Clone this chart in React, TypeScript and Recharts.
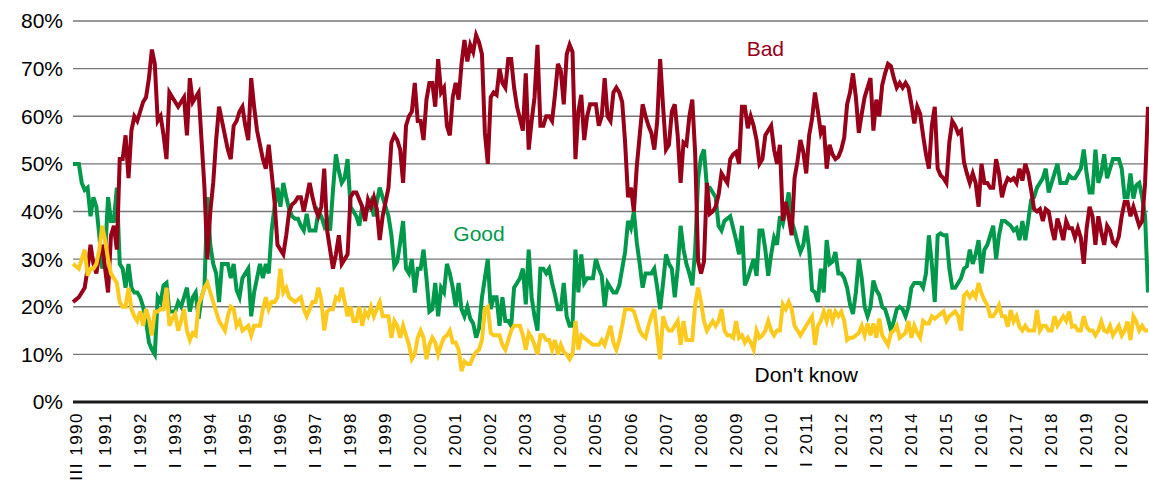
import React from 'react';
import { LineChart, Line, XAxis, YAxis, CartesianGrid, ReferenceDot } from 'recharts';

// Monthly survey, from March 1990 (III 1990) to November 2020 (XI 2020)
const ROMAN = ['I', 'II', 'III', 'IV', 'V', 'VI', 'VII', 'VIII', 'IX', 'X', 'XI', 'XII'];
const START_YEAR = 1990;
const START_MONTH = 3;

// "Bad" (%)
const bad = [
  21, 21.5, 22, 23, 24, 28, 33, 29, 27, 31,
  33, 28, 23, 35, 37, 32, 51, 51, 56, 47, 57, 60,
  59, 61, 63, 64, 68, 74, 71, 59, 60, 56, 51, 65,
  64, 63, 62, 63, 64, 56, 68, 63, 64, 65, 55, 45,
  30, 40, 46, 55, 62, 59, 56, 53, 51, 58, 59, 61,
  62, 58, 55, 68, 62, 57, 54, 51, 49, 54, 48, 42,
  33, 32, 31, 35, 40, 41.5, 42, 43, 43, 40, 43, 46,
  43, 40.5, 39, 41, 49, 36, 32, 28, 31, 35, 29, 30,
  31, 43, 44, 44, 42.5, 41, 38, 42.5, 41, 43, 40.5, 34,
  39, 42, 45, 54.5, 56, 55, 53, 46, 58, 60, 61, 67,
  59, 59, 55, 63.5, 67, 67, 62, 72, 65, 66, 58, 56,
  64, 67, 63.5, 71, 76, 71.5, 75, 73.5, 77, 75.5, 73, 56.5,
  50, 64, 65, 64.5, 70, 67, 66, 72, 72, 66, 62, 59.5,
  57, 69, 53, 59, 64, 75, 58, 58, 60, 60, 59, 64.5,
  71, 69.5, 62.5, 73, 75, 73.5, 51, 61, 64.5, 55, 60, 62.5,
  62.5, 62.5, 58, 60, 68, 60, 59, 65, 66, 65, 63, 54.5,
  43, 45, 40, 49.5, 56, 62.5, 60, 58, 56.5, 53, 59, 72,
  62, 53, 54, 61, 62.5, 56, 46, 54.5, 54, 60, 63.5, 52,
  29.5, 27, 29.5, 46, 39.5, 40, 41, 43.5, 48, 47, 46, 51,
  52, 52.5, 50, 62, 62, 57.5, 60, 58, 55, 50, 51, 56,
  57, 58, 53, 50, 54, 38, 42, 39, 35, 47, 50.5, 55,
  52.5, 48, 56, 59.5, 65, 61, 56.5, 58, 49, 54, 52, 51,
  51.5, 53, 55.5, 62.5, 65, 69, 64, 56.5, 60.5, 64, 66, 68,
  57, 63.5, 60, 66.5, 69, 71, 70.5, 68, 66, 67, 66, 67,
  66, 62.5, 58.5, 62, 60.5, 56, 52, 49, 58, 62, 49, 47.6,
  47, 46, 54.6, 59, 58, 56.4, 57, 50.4, 48, 46, 48, 46,
  41, 50, 46, 46, 45, 45, 51, 48, 43, 45.5, 47, 46.5,
  47, 46, 49, 46.5, 50, 48, 44.5, 40.5, 40, 40.5, 38, 40.5,
  40, 36.5, 34, 38.5, 36.5, 34, 38, 36.5, 36.5, 34.5, 36.5, 34.5,
  29, 36.5, 41, 39, 33, 39, 35.7, 33, 37, 36, 33.6, 33,
  34.7, 39, 42, 42, 39, 41, 39, 37, 38, 46, 62,
];

// "Good" (%)
const good = [
  50, 50, 50, 46, 44.5, 45, 39, 43, 41, 35,
  28, 31, 43, 38, 38, 45, 29, 28, 24, 29, 24, 23,
  23, 22, 20, 17, 12.5, 11, 10, 22, 21, 24.5, 25, 19,
  19, 19, 21, 20, 22, 24, 19, 22, 23, 17.5, 22, 24,
  43, 33, 29, 27, 21, 29, 29, 29, 26, 29, 23.5, 22,
  26, 27, 28, 18, 23, 26, 29, 26, 29, 27, 36, 41,
  45, 41, 46, 43, 40.5, 39, 38.5, 38.5, 37, 36, 39.5, 36,
  36, 36, 40, 39, 37, 38.5, 36, 44.5, 52, 48.5, 46, 47,
  51, 41, 40, 39, 37, 41, 40, 40.5, 42, 39, 42, 45,
  43, 41, 39, 35, 28.5, 29.5, 33.5, 38, 28, 27, 30, 23,
  28, 28, 32, 26, 19, 19.5, 25, 18, 24, 23, 29, 27,
  24, 20, 25, 19.5, 18, 20, 17.5, 16.5, 13.5, 15.5, 22, 26,
  30, 19.5, 22, 22, 16, 22, 17, 17, 16, 24, 25, 26,
  28, 20.5, 32, 22, 18, 15, 28, 28, 27, 28, 25, 22.5,
  19.5, 19.5, 25, 18, 16, 16, 32, 23, 31, 25, 26, 26,
  26, 30, 28, 26.5, 20, 25, 24, 23, 23, 24.5, 28, 31.5,
  38, 36.5, 40, 33.5, 29, 24, 27, 27, 27, 28, 24, 19.5,
  25, 31, 29, 28, 22, 28, 37, 32, 29, 27, 24.5, 32,
  47, 51.5, 53, 45, 45, 44, 43, 37, 36, 38, 38.5, 39,
  36.5, 34, 31, 37, 24.5, 26, 28, 30, 26.5, 36, 36, 32,
  26.5, 31, 34.5, 33, 39, 37.5, 40.5, 44, 38, 36, 33.5, 31.5,
  33, 37, 32, 23.5, 23, 21, 28, 23, 34, 29, 29.5, 31.5,
  27, 27, 26, 24, 20.5, 18.5, 23, 30, 26, 20, 18, 20,
  25.5, 23.5, 22.5, 20, 19.5, 17.5, 15, 17, 19.5, 20, 19.5, 18,
  20, 24, 25, 25, 25, 24, 27, 35, 29, 21, 35, 35.4,
  35, 35, 28, 24, 24, 25, 26, 28, 28.5, 32, 29, 31,
  34, 27, 32, 33, 35, 37, 30, 35, 38, 38, 37.5, 37,
  36, 36.5, 34, 38, 34, 38, 42.4, 43, 45, 46, 47, 49,
  44, 46, 48, 50, 46, 46, 46, 47.6, 47, 47, 48, 49,
  53, 48, 44, 44, 53, 46, 48, 52, 47, 49, 51, 51,
  51, 49, 43, 43, 48, 42.7, 45.5, 46, 43, 39, 23,
];

// "Don't know" (%)
const dontKnow = [
  29, 28.5, 28, 30, 32, 26.5, 28, 28, 29, 32,
  37, 34, 30, 27, 26, 25, 21, 20, 20, 24, 19.5, 18,
  17, 19, 16, 19.5, 17.5, 14, 19, 19, 19.5, 19.5, 24, 16,
  17.5, 18.5, 15, 17, 19.5, 15, 13, 14.5, 14, 20.5, 22, 24,
  25, 23, 21, 19, 17, 16, 15, 18, 20, 19.5, 16, 17,
  15, 15.5, 16, 14, 16, 16, 16, 19.5, 22, 19.5, 21, 21,
  22, 28, 23, 24, 22, 21.5, 21, 21.5, 22, 19.5, 18, 19.5,
  21, 21, 24, 21.5, 15, 19, 19.5, 19.5, 22, 21.5, 24, 21,
  18, 20, 17, 17, 20, 16, 19, 18, 20, 18, 19.5, 21,
  18, 18, 18, 13.5, 17, 16, 13.5, 16, 14, 12, 9, 10,
  13.5, 15, 13.5, 9, 12, 13.5, 12.5, 10, 12, 13.5, 14, 15,
  12.5, 12.5, 11, 6.5, 8.5, 8, 8, 9.5, 10.5, 11, 13, 19.5,
  20, 14.5, 14, 14, 14, 12, 11, 13, 15, 16, 16, 16,
  14, 11, 14.5, 13.5, 12, 10, 14, 14, 13, 13, 11, 13,
  10, 12, 10.5, 10, 9, 10, 17, 11, 14, 13.5, 13, 12.5,
  12, 12, 12, 13, 12, 14, 16, 12.5, 11, 13, 16, 19.5,
  19.5, 19.5, 19, 17, 15, 14, 13.5, 16, 18, 19.5, 14, 9,
  18, 16, 15, 15, 16, 17, 12, 17, 13, 13, 13, 20.5,
  24, 21, 17, 15, 16, 17, 16, 17, 19.5, 15, 14, 14,
  13.5, 17, 13.5, 14, 12.5, 13.5, 12.5, 11, 15, 13.5, 14, 15,
  17, 15, 14, 15, 15, 20.5, 19.5, 21, 19.5, 16, 15, 14,
  15, 16, 17, 18, 12, 16, 17, 19, 17, 19.5, 17, 19,
  18, 19, 17, 13, 13.5, 13.5, 14, 14.5, 16, 14, 16.5, 14,
  16.5, 13.5, 17.5, 14, 13, 12, 14.5, 15, 16, 13.5, 14, 14.5,
  17, 13.5, 16, 14.5, 13.5, 17, 16.5, 16.5, 18, 17.5, 18, 18.5,
  19, 17, 18, 18.5, 19, 18, 15, 22.4, 23, 22, 23, 22,
  25, 22.8, 21.4, 20.3, 18, 18, 19, 20.3, 18, 18, 15.8, 19.3,
  16.9, 18, 15.8, 15, 16, 15, 15, 15, 19.3, 15, 16, 16,
  15, 15, 18, 16, 17, 18, 17, 19, 15.8, 16, 15, 15,
  18, 15.8, 15, 15, 14, 15, 16.9, 15, 14.7, 16, 14, 15,
  16, 14, 15, 16.9, 13, 18, 16.9, 15, 16, 15, 15,
];

const categories = bad.map((_, i) => {
  const m = START_MONTH - 1 + i;
  return `${ROMAN[m % 12]} ${START_YEAR + Math.floor(m / 12)}`;
});

const tickLabels = [
  'III 1990', 'I 1991', 'I 1992', 'I 1993', 'I 1994', 'I 1995', 'I 1996', 'I 1997',
  'I 1998', 'I 1999', 'I 2000', 'I 2001', 'I 2002', 'I 2003', 'I 2004', 'I 2005',
  'I 2006', 'I 2007', 'I 2008', 'I 2009', 'I 2010', 'I 2011', 'I 2012', 'I 2013',
  'I 2014', 'I 2015', 'I 2016', 'I 2017', 'I 2018', 'I 2019', 'I 2020',
];

const yTicks = [0, 10, 20, 30, 40, 50, 60, 70, 80];

const seriesLabels = [
  { name: 'Bad', at: 'XII 2009', value: 74.3, color: '#98001a' },
  { name: 'Good', at: 'X 2001', value: 35.3, color: '#00994c' },
  { name: "Don't know", at: 'II 2011', value: 5.7, color: '#000000' },
];

const data = categories.map((c, i) => ({
  month: c,
  good: good[i],
  bad: bad[i],
  dontKnow: dontKnow[i],
}));

const FONT = '"Liberation Sans", Arial, sans-serif';
const tickSet = new Set(tickLabels);

const XTick = (props: any) => {
  const { x, y, payload } = props;
  if (!tickSet.has(payload.value)) return <g />;
  const tx = x + 3;
  const ty = y + 2;
  return (
    <text
      x={tx}
      y={ty}
      transform={`rotate(-90 ${tx} ${ty})`}
      textAnchor="end"
      dominantBaseline="central"
      fontSize={17}
      letterSpacing={1.5}
      fontFamily={FONT}
      fill="#000"
    >
      {payload.value}
    </text>
  );
};

export default function App() {
  return (
    <div style={{ position: 'absolute', left: 0, top: 0, background: '#fff' }}>
      <LineChart
        width={1149}
        height={484}
        data={data}
        margin={{ top: 21, right: 1, bottom: 0, left: 0 }}
      >
        <CartesianGrid vertical={false} stroke="#777" strokeWidth={1.4} />
        <XAxis
          dataKey="month"
          interval={0}
          tick={<XTick />}
          tickLine={false}
          axisLine={{ stroke: '#1a1a1a', strokeWidth: 3 }}
          height={82}
        />
        <YAxis
          domain={[0, 80]}
          ticks={yTicks}
          tickFormatter={(v: number) => `${v}%`}
          axisLine={false}
          tickLine={false}
          tickMargin={4}
          width={73}
          interval={0}
          tick={{ fontSize: 21, fill: '#000', fontFamily: FONT }}
        />
        <Line type="linear" dataKey="good" stroke="#00994c" strokeWidth={4} dot={false} isAnimationActive={false} />
        <Line type="linear" dataKey="bad" stroke="#98001a" strokeWidth={4} dot={false} isAnimationActive={false} />
        <Line type="linear" dataKey="dontKnow" stroke="#fcca1f" strokeWidth={4} dot={false} isAnimationActive={false} />
        {seriesLabels.map((s) => (
          <ReferenceDot
            key={s.name}
            x={s.at}
            y={s.value}
            r={0}
            fill="none"
            stroke="none"
            label={{ value: s.name, position: 'center', fill: s.color, fontSize: 21, fontFamily: FONT }}
          />
        ))}
      </LineChart>
    </div>
  );
}
